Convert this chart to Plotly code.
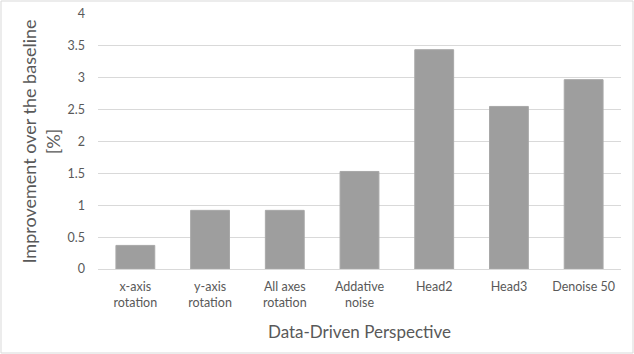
import plotly.graph_objects as go

categories = ["x-axis<br>rotation", "y-axis<br>rotation", "All axes<br>rotation",
              "Addative<br>noise", "Head2", "Head3", "Denoise 50"]
improvement = [0.37, 0.92, 0.92, 1.53, 3.44, 2.55, 2.97]

W, H = 634, 354
ml, mr, mt, mb = 98, 13, 14, 85
pw = W - ml - mr
ph = H - mt - mb

fig = go.Figure()
fig.add_trace(go.Bar(
    x=categories, y=improvement,
    marker=dict(color="#9e9e9e", line=dict(color="#a8a8a8", width=1)),
))

grey = "#595959"
fig.update_layout(
    width=W, height=H,
    margin=dict(l=ml, r=mr, t=mt, b=mb, autoexpand=False),
    paper_bgcolor="white", plot_bgcolor="white",
    font=dict(family="Lato, Open Sans, sans-serif", color=grey, size=12),
    bargap=0.48,
    showlegend=False,
    xaxis=dict(
        showgrid=False, showline=True, linecolor="#d9d9d9", linewidth=1,
        automargin=False,
        tickfont=dict(size=12.5, color=grey), ticklabelstandoff=6,
        title=dict(text="Data-Driven Perspective", font=dict(size=17, color=grey), standoff=16),
    ),
    yaxis=dict(
        range=[0, 4], dtick=0.5, showgrid=True, gridcolor="#d9d9d9", gridwidth=1,
        zeroline=False, showline=False, automargin=False,
        tickfont=dict(size=12.5, color=grey), ticklabelstandoff=12,
        title=dict(text="Improvement over the baseline<br>[%]",
                   font=dict(size=18, color=grey), standoff=2),
    ),
    shapes=[dict(
        type="rect", xref="paper", yref="paper",
        x0=(1 - ml) / pw, x1=(W - 1 - ml) / pw,
        y0=-(H - 1 - mt - ph) / ph, y1=1 + (mt - 1) / ph,
        line=dict(color="#d9d9d9", width=1), layer="below",
    )],
)

# drop the default page margin so the chart sits at the window's corner
fig.write_html("out.html", config={"displayModeBar": False},
               post_script="document.body.style.margin='0';")
